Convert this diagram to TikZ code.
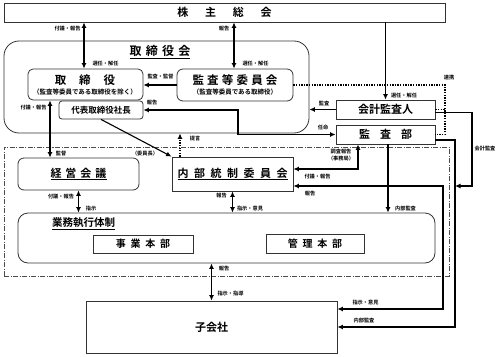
\documentclass[tikz,border=0pt]{standalone}
\usepackage{fontspec}
\setmainfont{Noto Sans CJK JP}[BoldFont={Noto Sans CJK JP Bold}]
\usetikzlibrary{arrows.meta,calc}
\newcommand\myfs[1]{\fontsize{#1}{#1}\selectfont\bfseries}
\newcommand\jgap[1]{\hspace{#1pt}}
\begin{document}
\begin{tikzpicture}[x=1pt,y=-1pt,
  box/.style={draw=black!80, line width=0.8pt, fill=white, inner sep=0pt},
  txt/.style={inner sep=0pt},
  lab/.style={inner sep=0pt, font=\myfs{5.2}},
  areaf/.style={draw=black!70, line width=0.6pt, dash pattern=on 5pt off 1.5pt on 1pt off 1.5pt, inner sep=0pt},
  arr/.style={line width=1.1pt, -{Latex[length=5.5pt,width=5pt]}},
  biarr/.style={line width=1.1pt, {Latex[length=5.5pt,width=5pt]}-{Latex[length=5.5pt,width=5pt]}},
  dotl/.style={line width=1.3pt, dash pattern=on 1.3pt off 1.3pt},
  dotarr/.style={dotl, -{Latex[length=5.5pt,width=5pt]}}]
\useasboundingbox (0,0) rectangle (500,356);

% frames
\node[box, rounded corners=15pt, minimum width=305pt, minimum height=92pt] (bod) at (156.5,87) {};
\node[txt] (bodt) at (160,52) {\myfs{12}\underline{取\jgap{4.3}締\jgap{4.3}役\jgap{4.3}会}};
\node[areaf, minimum width=445pt, minimum height=129pt] (area) at (226.5,211.5) {};

% boxes
\node[box, minimum width=441pt, minimum height=19pt] (sh) at (224.5,12.5) {\myfs{11}株\jgap{16.7}主\jgap{16.7}総\jgap{16.7}会};

\node[box, rounded corners=5pt, minimum width=115pt, minimum height=31pt] (tor) at (85.5,84.5) {};
\node[txt] (tort) at (85,80) {\myfs{11.5}取\jgap{13}締\jgap{13}役};
\node[txt] (tors) at (85,92) {\myfs{6.5}（監査等委員である取締役を除く）};

\node[box, rounded corners=6pt, minimum width=116pt, minimum height=32pt] (kan) at (235,85) {};
\node[txt] (kant) at (235,80) {\myfs{11.5}監\jgap{3.2}査\jgap{3.2}等\jgap{3.2}委\jgap{3.2}員\jgap{3.2}会};
\node[txt] (kans) at (235,92) {\myfs{6.5}（監査等委員である取締役）};

\node[box, rounded corners=3pt, minimum width=84pt, minimum height=18pt] (ceo) at (101,110) {\myfs{8.5}代表取締役社長};

\node[box, minimum width=99pt, minimum height=19pt] (aud) at (385.5,109.5) {\myfs{11}会計監査人};
\node[box, minimum width=99pt, minimum height=19pt] (iad) at (385.5,134.5) {\myfs{11}監\jgap{10}査\jgap{10}部};

\node[box, rounded corners=6pt, minimum width=121pt, minimum height=32pt] (keiei) at (78.5,174) {\myfs{11}\underline{経\jgap{4}営\jgap{4}会\jgap{4}議}};
\node[box, minimum width=121pt, minimum height=34pt] (icc) at (232.5,174) {\myfs{11}\underline{内\jgap{5.5}部\jgap{5.5}統\jgap{5.5}制\jgap{5.5}委\jgap{5.5}員\jgap{5.5}会}};

\node[box, rounded corners=10pt, minimum width=417pt, minimum height=50pt] (gyomu) at (226.5,238) {};
\node[txt] (gyomut) at (83.5,224) {\myfs{10.5}\underline{業務執行体制}};
\node[box, minimum width=100pt, minimum height=18pt] (jigyo) at (143,244) {\myfs{10}事\jgap{4.7}業\jgap{4.7}本\jgap{4.7}部};
\node[box, minimum width=98pt, minimum height=19pt] (kanri) at (315,243.5) {\myfs{10}管\jgap{4.7}理\jgap{4.7}本\jgap{4.7}部};

\node[box, minimum width=251pt, minimum height=52pt] (ko) at (211.5,327) {\myfs{11}子会社};

% helper coordinates
\coordinate (xa) at (84,0);
\coordinate (xb) at (234,0);
\coordinate (xd) at (238,0);
\coordinate (xe) at (445,0);
\coordinate (xf) at (472,0);
\coordinate (xg) at (455,0);
\coordinate (xh) at (443,0);
\coordinate (xi) at (358,0);
\coordinate (xj) at (388,0);
\coordinate (xk) at (180,0);
\coordinate (xl) at (50,0);
\coordinate (ya) at (0,112.5);
\coordinate (yb) at (0,186);
\coordinate (yc) at (0,140);
\coordinate (yd) at (0,169);
\coordinate (ye) at (0,309);

% connectors
\draw[biarr] (sh.south -| xa) -- (tor.north -| xa);
\draw[biarr] (sh.south -| xb) -- (kan.north -| xb);
\draw[arr] (sh.south -| aud.north) -- (aud.north);
\draw[arr] (kan.west) -- (kan.west -| tor.east);
\draw[arr] (aud.west) -- (aud.west -| bod.east);
\draw[biarr] (ceo.east) -- (ceo.east -| xd) -- (iad.west -| xd) -- (iad.west);
\draw[dotl] (kan.east) -- (kan.east -| xe) -- (iad.east -| xe) -- (iad.east);
\draw[dotl] (aud.east) -- (aud.east -| xe);
\draw[arr] (aud.east |- ya) -- (xf |- ya) -- (xf |- yb) -- (xg |- yb);
\draw[arr] (iad.east |- yc) -- (xg |- yc) -- (xg |- ko.east) -- (ko.east);
\draw[biarr] (icc.east |- yb) -- (xh |- yb) -- (xh |- ye) -- (ko.east |- ye);
\draw[biarr] (iad.south -| xi) -- (xi |- yd) -- (icc.east |- yd);
\draw[arr] (iad.south -| xj) -- (gyomu.north -| xj);
\draw[dotarr] (icc.north -| xk) -- (bod.south -| xk);
\draw[arr] (ceo.south) -- (icc.north west);
\draw[biarr] (tor.south -| xl) -- (keiei.north -| xl);
\draw[biarr] (keiei.south) -- (gyomu.north -| keiei.south);
\draw[biarr] (icc.south) -- (gyomu.north -| icc.south);
\draw[biarr] (gyomu.south -| ko.north) -- (ko.north);

% labels
\node[lab] (l1) at (67.5,29) {付議・報告};
\node[lab] (l2) at (105.5,64) {選任・解任};
\node[lab] (l3) at (224,29) {報告};
\node[lab] (l4) at (255.5,64) {選任・解任};
\node[lab] (l5) at (404,95.5) {選任・解任};
\node[lab] (l6) at (160.5,77) {監査・監督};
\node[lab] (l7) at (152,103) {報告};
\node[lab] (l8) at (324,103) {監査};
\node[lab] (l9) at (323,128) {任命};
\node[lab] (l10) at (449,78) {連携};
\node[lab] (l11) at (485,149) {会計監査};
\node[lab] (l12) at (341,151.5) {調査報告};
\node[lab] (l13) at (341,159) {（事務局）};
\node[lab] (l14) at (317.5,177) {付議・報告};
\node[lab] (l15) at (310,194) {報告};
\node[lab] (l16) at (405.5,209) {内部監査};
\node[lab] (l17) at (195,139) {提言};
\node[lab] (l18) at (145,153.5) {（委員長）};
\node[lab] (l19) at (33.5,108) {付議・報告};
\node[lab] (l20) at (61,154) {監督};
\node[lab] (l21) at (61,197) {付議・報告};
\node[lab] (l22) at (91,209) {指示};
\node[lab] (l23) at (221.5,196) {報告};
\node[lab] (l24) at (250,209) {指示・意見};
\node[lab] (l25) at (224,269) {報告};
\node[lab] (l26) at (230.5,294) {指示・指導};
\node[lab] (l27) at (365.5,303) {指示・意見};
\node[lab] (l28) at (364,321) {内部監査};
\end{tikzpicture}
\end{document}
